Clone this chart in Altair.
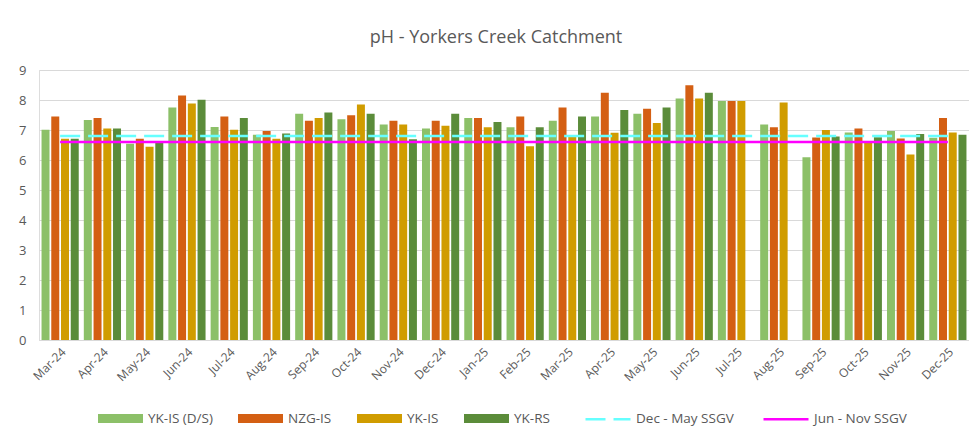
import altair as alt
import pandas as pd

months = ["Mar-24", "Apr-24", "May-24", "Jun-24", "Jul-24", "Aug-24", "Sep-24", "Oct-24",
          "Nov-24", "Dec-24", "Jan-25", "Feb-25", "Mar-25", "Apr-25", "May-25", "Jun-25",
          "Jul-25", "Aug-25", "Sep-25", "Oct-25", "Nov-25", "Dec-25"]

yk_is_ds = [7.01, 7.33, 6.54, 7.75, 7.10, 6.84, 7.54, 7.36, 7.18, 7.05, 7.40, 7.09,
            7.31, 7.45, 7.54, 8.05, 7.97, 7.18, 6.09, 6.92, 6.97, 6.74]
nzg_is = [7.45, 7.40, 6.71, 8.15, 7.45, 6.97, 7.31, 7.49, 7.31, 7.31, 7.40, 7.45,
          7.75, 8.24, 7.71, 8.49, 7.97, 7.09, 6.75, 7.05, 6.72, 7.40]
yk_is = [6.71, 7.05, 6.44, 7.88, 7.01, 6.71, 7.40, 7.85, 7.18, 7.14, 7.09, 6.46,
         6.78, 6.91, 7.23, 8.05, 7.97, 7.92, 7.00, 6.57, 6.18, 6.92]
yk_rs = [6.71, 7.05, 6.57, 8.01, 7.40, 6.88, 7.58, 7.54, 6.69, 7.54, 7.27, 7.09,
         7.45, 7.67, 7.75, 8.24, None, None, 6.78, 6.76, 6.87, 6.84]

series_names = ["YK-IS (D/S)", "NZG-IS", "YK-IS", "YK-RS"]
series_values = [yk_is_ds, nzg_is, yk_is, yk_rs]
series_colors = ["#8CC068", "#D45F13", "#D09C00", "#5B8C3A"]

line_names = ["Dec - May SSGV", "Jun - Nov SSGV"]
line_levels = [6.8, 6.6]
line_colors = ["#66FFFF", "#FF00FF"]

bar_rows = []
for name, vals in zip(series_names, series_values):
    for m, v in zip(months, vals):
        if v is not None:
            bar_rows.append({"month": m, "series": name, "value": v})
bars_df = pd.DataFrame(bar_rows)

line_rows = []
for name, lvl in zip(line_names, line_levels):
    for m in months:
        line_rows.append({"month": m, "line": name, "value": lvl})
lines_df = pd.DataFrame(line_rows)

FONT = "Open Sans"
GREY = "#595959"

x_enc = alt.X("month:N", sort=months, title=None,
              scale=alt.Scale(paddingInner=0.12, paddingOuter=0.06),
              axis=alt.Axis(labelAngle=-45, labelFontSize=12, labelColor=GREY, labelFont=FONT,
                            ticks=False, domainColor="#D9D9D9", labelPadding=6))
y_axis = alt.Axis(values=list(range(10)), labelFontSize=13, labelColor=GREY, labelFont=FONT,
                  ticks=False, domain=False, gridColor="#D9D9D9", labelPadding=13,
                  labelOverlap=False)
y_scale = alt.Scale(domain=[0, 9], nice=False)

legend_common = dict(title=None, direction="horizontal", orient="none",
                     labelFontSize=13.5, labelColor=GREY, labelFont=FONT,
                     columnPadding=24, labelOffset=4)

bars = alt.Chart(bars_df).mark_bar().encode(
    x=x_enc,
    y=alt.Y("value:Q", title=None, scale=y_scale, axis=y_axis),
    xOffset=alt.XOffset("series:N", sort=series_names,
                        scale=alt.Scale(domain=series_names, paddingInner=0.18, paddingOuter=0)),
    color=alt.Color("series:N",
                    scale=alt.Scale(domain=series_names, range=series_colors),
                    legend=alt.Legend(symbolType="M-1,-0.2L1,-0.2L1,0.2L-1,0.2Z",
                                      symbolSize=2025, legendX=58, legendY=325,
                                      **legend_common)),
)

line_legend = alt.Legend(symbolType="stroke", symbolSize=2025, symbolStrokeWidth=2.5,
                         legendX=545, legendY=325, **legend_common)

lines = alt.Chart(lines_df).mark_line(strokeWidth=2.5).encode(
    x=alt.X("month:N", sort=months, title=None),
    y=alt.Y("value:Q", title=None, scale=y_scale, axis=y_axis),
    color=alt.Color("line:N",
                    scale=alt.Scale(domain=line_names, range=line_colors),
                    legend=line_legend),
    strokeDash=alt.StrokeDash("line:N",
                              scale=alt.Scale(domain=line_names, range=[[20, 8], [1, 0]]),
                              legend=line_legend),
)

chart = alt.layer(bars, lines).resolve_scale(
    color="independent", strokeDash="independent"
).properties(
    width=930,
    height=270,
    padding={"left": 31, "top": 62, "right": 0, "bottom": 88},
    autosize=alt.AutoSizeParams(type="none"),
    title=alt.TitleParams("pH - Yorkers Creek Catchment", fontSize=18, color=GREY,
                          font=FONT, fontWeight="normal", anchor="middle",
                          baseline="alphabetic", offset=3, dx=-8),
).configure_view(stroke=None).configure(background="white")

chart.save("out.html", embed_options={"renderer": "svg", "actions": False})
